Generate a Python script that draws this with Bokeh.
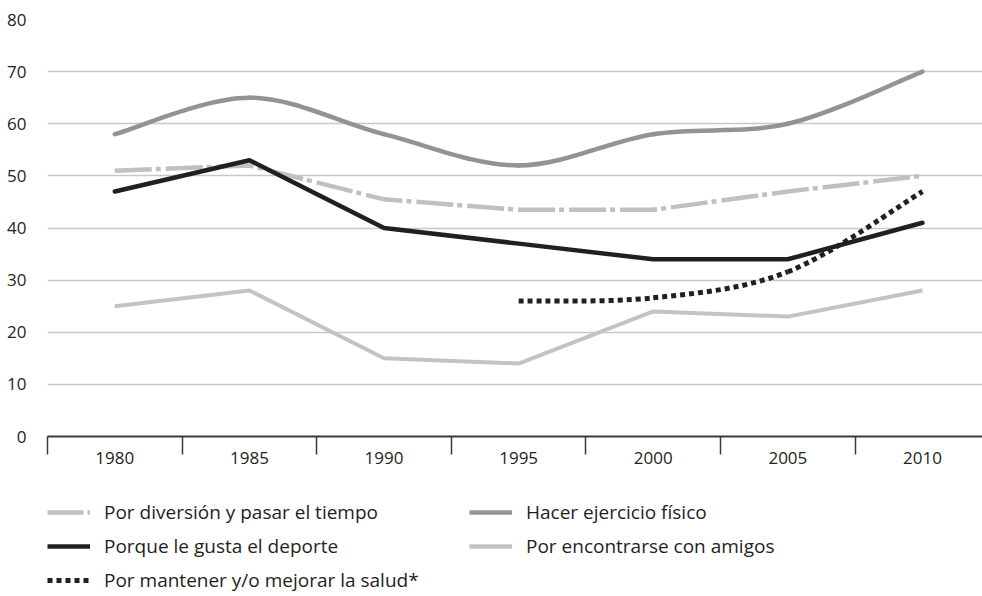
from bokeh.plotting import figure
from bokeh.layouts import column
from bokeh.models import FixedTicker, Range1d, Legend, LegendItem, CustomJSTickFormatter
from bokeh.embed import file_html
from bokeh.resources import INLINE

years = ["1980", "1985", "1990", "1995", "2000", "2005", "2010"]
idx = list(range(len(years)))

diversion = [51, 52, 45.5, 43.5, 43.5, 47, 50]
ejercicio = [58, 65, 58, 52, 58, 60, 70]
deporte = [47, 53, 40, 37, 34, 34, 41]
amigos = [25, 28, 15, 14, 24, 23, 28]
salud_years = [3, 4, 5, 6]
salud = [26, 26.6, 31.6, 47]

y_ticks = [0, 10, 20, 30, 40, 50, 60, 70, 80]

FONT = "Open Sans"
TXT = "#231f20"
C_AMI = "#c3c3c6"
C_DIV = "#c0c0c3"
C_EJE = "#939395"
NAN = float("nan")


def smooth_segments(xs, ys):
    """Catmull-Rom (Excel-style smoothed line) bezier segments through the data points."""
    n = len(xs)
    seg = dict(x0=[], y0=[], x1=[], y1=[], cx0=[], cy0=[], cx1=[], cy1=[])
    for i in range(n - 1):
        a = max(i - 1, 0)
        d = min(i + 2, n - 1)
        seg["x0"].append(xs[i]); seg["y0"].append(ys[i])
        seg["x1"].append(xs[i + 1]); seg["y1"].append(ys[i + 1])
        seg["cx0"].append(xs[i] + (xs[i + 1] - xs[a]) / 6)
        seg["cy0"].append(ys[i] + (ys[i + 1] - ys[a]) / 6)
        seg["cx1"].append(xs[i + 1] - (xs[d] - xs[i]) / 6)
        seg["cy1"].append(ys[i + 1] - (ys[d] - ys[i]) / 6)
    return seg


p = figure(frame_width=935, frame_height=417, output_backend="svg", toolbar_location=None,
           x_range=Range1d(-0.5, 6.446), y_range=Range1d(0, 80),
           min_border_left=47, min_border_right=0, min_border_top=19, min_border_bottom=55)
p.outline_line_color = None
p.background_fill_color = "white"
p.border_fill_color = "white"

# x axis: category boundaries as ticks, year labels centred between them
p.xaxis.ticker = FixedTicker(ticks=idx, minor_ticks=[i - 0.5 for i in idx])
p.xaxis.formatter = CustomJSTickFormatter(args=dict(labels=years), code="return labels[Math.round(tick)] || '';")
p.xaxis.major_tick_out = 0
p.xaxis.major_tick_in = 0
p.xaxis.minor_tick_out = 18
p.xaxis.minor_tick_in = 0
p.xaxis.minor_tick_line_color = "#3a3a3a"
p.xaxis.minor_tick_line_width = 1.5
p.xaxis.axis_line_color = "#3a3a3a"
p.xaxis.axis_line_width = 2
p.xaxis.major_label_standoff = -3
p.xaxis.major_label_text_font = FONT
p.xaxis.major_label_text_font_size = "17px"
p.xaxis.major_label_text_color = TXT

# y axis
p.yaxis.ticker = FixedTicker(ticks=y_ticks)
p.yaxis.axis_line_color = None
p.yaxis.major_tick_line_color = None
p.yaxis.minor_tick_line_color = None
p.yaxis.major_label_standoff = 15
p.yaxis.major_label_text_font = FONT
p.yaxis.major_label_text_font_size = "17px"
p.yaxis.major_label_text_color = TXT

p.xgrid.grid_line_color = None
p.ygrid.ticker = FixedTicker(ticks=y_ticks[1:])
p.ygrid.grid_line_color = "#c8c8c8"
p.ygrid.grid_line_width = 1.5

p.line(idx, amigos, line_color=C_AMI, line_width=4, line_join="round")
p.line(idx, diversion, line_color=C_DIV, line_width=4.5, line_dash="37 4 5 5")
p.bezier(**smooth_segments(idx, ejercicio), line_color=C_EJE, line_width=4.5, line_cap="round")
p.line(idx, deporte, line_color=TXT, line_width=4.5, line_cap="round")
p.bezier(**smooth_segments(salud_years, salud), line_color=TXT, line_width=5, line_dash="5 4")

# legend figure (legend-only renderers, no visible data)
q = figure(width=974, height=105, output_backend="svg", toolbar_location=None,
           x_axis_type=None, y_axis_type=None, x_range=Range1d(0, 1), y_range=Range1d(0, 1),
           min_border_left=47, min_border_right=0, min_border_top=8, min_border_bottom=0)
q.outline_line_color = None
q.grid.grid_line_color = None
q.background_fill_color = "white"
q.border_fill_color = "white"

l_div = q.line([NAN], [NAN], line_color=C_DIV, line_width=4.5, line_dash="36 4 5 5")
l_dep = q.line([NAN], [NAN], line_color=TXT, line_width=4.5)
l_sal = q.line([NAN], [NAN], line_color=TXT, line_width=5, line_dash="5 4")
l_eje = q.line([NAN], [NAN], line_color=C_EJE, line_width=4.5)
l_ami = q.line([NAN], [NAN], line_color=C_AMI, line_width=4.5)

legend = Legend(items=[
    LegendItem(label="Por diversión y pasar el tiempo", renderers=[l_div]),
    LegendItem(label="Porque le gusta el deporte", renderers=[l_dep]),
    LegendItem(label="Por mantener y/o mejorar la salud*", renderers=[l_sal]),
    LegendItem(label="Hacer ejercicio físico", renderers=[l_eje]),
    LegendItem(label="Por encontrarse con amigos", renderers=[l_ami]),
], location="top_left", orientation="vertical", ncols=2)
legend.border_line_color = None
legend.background_fill_alpha = 0
legend.padding = 0
legend.margin = 0
legend.spacing = 8
legend.glyph_width = 43
legend.glyph_height = 20
legend.label_height = 20
legend.label_width = 357
legend.label_standoff = 14
legend.label_text_font = FONT
legend.label_text_font_size = "19px"
legend.label_text_color = TXT
q.add_layout(legend, "center")

layout = column(p, q, spacing=0)
open("out.html", "w").write(file_html(layout, INLINE))
